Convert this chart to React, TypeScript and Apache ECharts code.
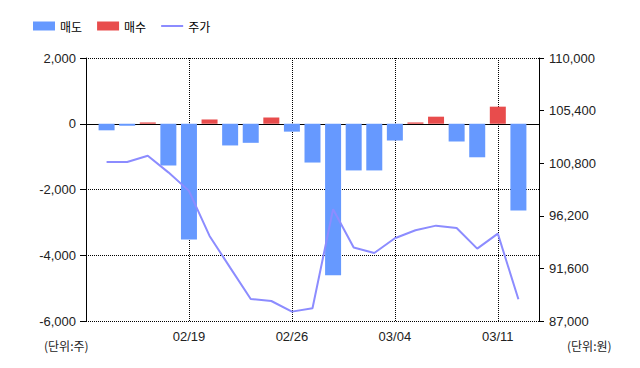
import React, { useEffect, useRef } from "react";
import * as echarts from "echarts";

const categories = ["", "02/13", "02/14", "02/15", "02/16", "02/19", "02/20", "02/21", "02/22", "02/23", "02/26", "02/27", "02/28", "02/29", "03/01", "03/04", "03/05", "03/06", "03/07", "03/08", "03/11", "03/12", ""];
const sellValues = [null, -200, -60, null, -1270, -3520, null, -660, -580, null, -240, -1180, -4610, -1420, -1420, -510, null, null, -540, -1020, null, -2640, null];
const buyValues = [null, null, null, 40, null, null, 130, null, null, 190, null, null, null, null, null, null, 40, 215, null, null, 520, null, null];
const priceValues = [null, 100900, 100900, 101450, 100000, 98380, 94440, 91670, 88930, 88750, 87820, 88110, 96780, 93420, 92950, 94240, 94940, 95340, 95140, 93330, 94640, 88900, null];
const leftTicks = { min: -6000, max: 2000, interval: 2000 };
const rightTicks = { min: 87000, max: 110000, interval: 4600 };

const FONT = "'Liberation Sans', Arial, 'Noto Sans CJK KR', sans-serif";
const KFONT = "'Noto Sans CJK KR', sans-serif";
const fmt = (v: number) => Math.round(v).toLocaleString("en-US");

export default function App() {
  const ref = useRef<HTMLDivElement>(null);
  useEffect(() => {
    document.body.style.margin = "0";
    if (!ref.current) return;
    const chart = echarts.init(ref.current, undefined, { renderer: "svg" });
    const labelIdx = (i: number) => i % 5 === 0 && i > 0 && i < categories.length - 1;
    chart.setOption({
      animation: false,
      textStyle: { fontFamily: FONT },
      legend: {
        left: 28,
        top: 15,
        itemWidth: 22,
        itemHeight: 9,
        itemGap: 15,
        textStyle: { fontSize: 12, color: "#000", fontFamily: KFONT },
        data: [
          { name: "매도", icon: "rect" },
          { name: "매수", icon: "rect" },
          { name: "주가", icon: "path://M0 0 H22 V2 H0 Z" },
        ],
      },
      grid: { left: 86, right: 101, top: 58, bottom: 47 },
      xAxis: {
        type: "category",
        data: categories,
        boundaryGap: false,
        axisLine: { lineStyle: { color: "#000", width: 1 } },
        axisTick: { show: true, length: 4, interval: (i: number) => labelIdx(i), lineStyle: { color: "#000", type: [1, 1] } },
        axisLabel: { interval: (i: number) => labelIdx(i), color: "#222", fontSize: 13, margin: 9, fontFamily: FONT },
        splitLine: { show: true, interval: (i: number) => labelIdx(i), lineStyle: { color: "#000", type: [1, 1] } },
      },
      yAxis: [
        {
          type: "value",
          min: leftTicks.min,
          max: leftTicks.max,
          interval: leftTicks.interval,
          axisLine: { show: true, lineStyle: { color: "#000" } },
          axisTick: { show: true, length: 6, lineStyle: { color: "#000" } },
          axisLabel: { color: "#222", fontSize: 13, margin: 10, formatter: (v: number) => fmt(v), fontFamily: FONT },
          splitLine: { show: true, lineStyle: { color: "#000", type: [1, 1] } },
        },
        {
          type: "value",
          min: 0,
          max: rightTicks.max - rightTicks.min,
          interval: rightTicks.interval,
          position: "right",
          axisLine: { show: true, lineStyle: { color: "#000" } },
          axisTick: { show: true, length: 5, lineStyle: { color: "#000" } },
          axisLabel: { color: "#222", fontSize: 13, margin: 10, formatter: (v: number) => fmt(v + rightTicks.min), fontFamily: FONT },
          splitLine: { show: false },
        },
      ],
      graphic: [
        { type: "text", left: 44, top: 339, style: { text: "(단위:주)", fontSize: 12, fill: "#222", fontFamily: KFONT } },
        { type: "text", left: 567, top: 339, style: { text: "(단위:원)", fontSize: 12, fill: "#222", fontFamily: KFONT } },
      ],
      series: [
        {
          name: "매도",
          type: "bar",
          stack: "net",
          barWidth: 16,
          data: sellValues,
          itemStyle: { color: "#6699ff" },
        },
        {
          name: "매수",
          type: "bar",
          stack: "net",
          barWidth: 16,
          data: buyValues,
          itemStyle: { color: "#e84c4c" },
        },
        {
          name: "주가",
          type: "line",
          yAxisIndex: 1,
          symbol: "none",
          data: priceValues.map((p) => (p == null ? null : p - rightTicks.min)),
          lineStyle: { color: "#8c8cff", width: 2 },
          itemStyle: { color: "#8c8cff" },
        },
      ],
    });
    return () => chart.dispose();
  }, []);
  return <div ref={ref} style={{ width: 640, height: 368 }} />;
}
